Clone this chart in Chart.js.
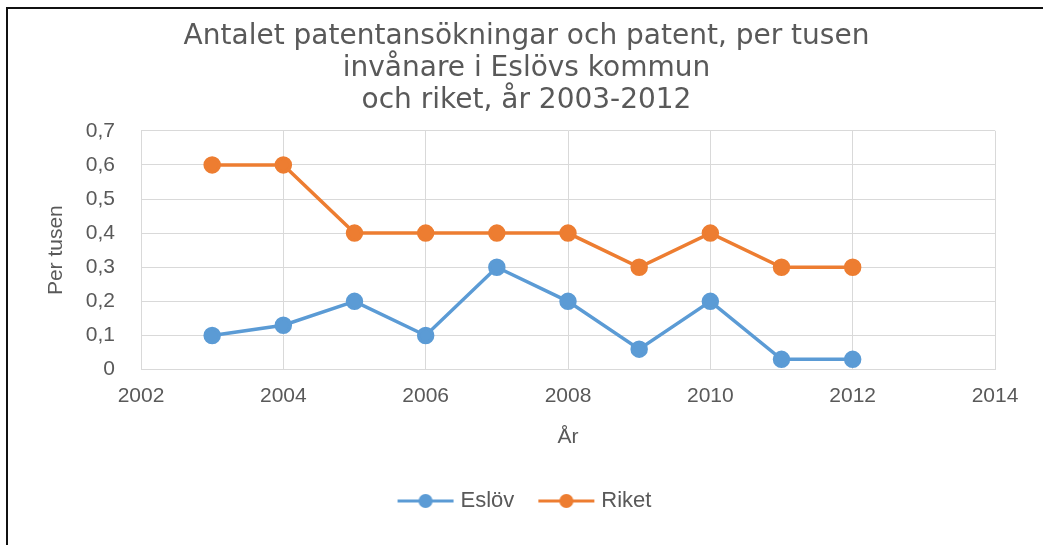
<!DOCTYPE html>
<html>
<head>
<meta charset="utf-8">
<script src="https://cdn.jsdelivr.net/npm/chart.js@4/dist/chart.umd.min.js"></script>
<style>
  html, body { margin: 0; padding: 0; background: #fff; }
  #wrap { position: relative; width: 1043px; height: 545px; }
  #frame { position: absolute; left: 6px; top: 7px; right: -4px; bottom: -4px;
           border-left: 2px solid #111; border-top: 2px solid #111; pointer-events: none; }
</style>
</head>
<body>
<div id="wrap">
  <canvas id="chart" width="1043" height="545"></canvas>
  <div id="frame"></div>
</div>
<script>
// data
var years = [2003, 2004, 2005, 2006, 2007, 2008, 2009, 2010, 2011, 2012];
var eslov = [0.10, 0.13, 0.20, 0.10, 0.30, 0.20, 0.06, 0.20, 0.03, 0.03];
var riket = [0.60, 0.60, 0.40, 0.40, 0.40, 0.40, 0.30, 0.40, 0.30, 0.30];
var titleLines = ['Antalet patentansökningar och patent, per tusen', 'invånare i Eslövs kommun', 'och riket, år 2003-2012'];
var seriesNames = ['Eslöv', 'Riket'];
var colors = ['#5B9BD5', '#ED7D31'];

var textColor = '#595959';
var gridColor = '#D9D9D9';

function toPoints(vals) {
  return years.map(function(y, i) { return { x: y, y: vals[i] }; });
}

// line + dot sample for the legend
function legendMark(color) {
  var c = document.createElement('canvas');
  c.width = 58; c.height = 16;
  var g = c.getContext('2d');
  g.strokeStyle = color; g.lineWidth = 3;
  g.beginPath(); g.moveTo(1, 8); g.lineTo(57, 8); g.stroke();
  g.fillStyle = color;
  g.beginPath(); g.arc(29, 8, 7, 0, Math.PI * 2); g.fill();
  return c;
}

var ctx = document.getElementById('chart');
new Chart(ctx, {
  type: 'line',
  data: {
    datasets: [
      { label: seriesNames[0], data: toPoints(eslov), borderColor: colors[0], backgroundColor: colors[0],
        borderWidth: 3.5, pointRadius: 7, pointHoverRadius: 7, tension: 0 },
      { label: seriesNames[1], data: toPoints(riket), borderColor: colors[1], backgroundColor: colors[1],
        borderWidth: 3.5, pointRadius: 7, pointHoverRadius: 7, tension: 0 }
    ]
  },
  options: {
    responsive: false,
    animation: false,
    layout: { padding: { left: 30, right: 20, top: 10, bottom: 23 } },
    plugins: {
      tooltip: { enabled: false },
      title: {
        display: true,
        text: titleLines,
        color: textColor,
        font: { family: 'DejaVu Sans', size: 28, weight: 'normal', lineHeight: 1.14 },
        padding: { top: 11, bottom: 14 }
      },
      legend: {
        position: 'bottom',
        labels: {
          color: textColor,
          font: { family: 'Liberation Sans', size: 22 },
          usePointStyle: true,
          pointStyleWidth: 48,
          padding: 28,
          generateLabels: function(chart) {
            return chart.data.datasets.map(function(ds, i) {
              return { text: ds.label, fillStyle: ds.borderColor, strokeStyle: ds.borderColor,
                       pointStyle: legendMark(ds.borderColor), datasetIndex: i, lineWidth: 0,
                       fontColor: textColor };
            });
          }
        }
      }
    },
    scales: {
      x: {
        type: 'linear',
        min: 2002, max: 2014,
        border: { color: gridColor, width: 1 },
        grid: { color: gridColor, drawTicks: false },
        ticks: { stepSize: 2, padding: 14, color: textColor,
                 font: { family: 'Liberation Sans', size: 21 },
                 callback: function(v) { return String(v); } },
        title: { display: true, text: 'År', color: textColor,
                 font: { family: 'Liberation Sans', size: 21 }, padding: { top: 2, bottom: 12 } },
        afterFit: function(scale) { scale.paddingRight = 48; }
      },
      y: {
        min: 0, max: 0.7,
        border: { color: gridColor, width: 1 },
        grid: { color: gridColor, drawTicks: false },
        ticks: { stepSize: 0.1, padding: 26, color: textColor,
                 font: { family: 'Liberation Sans', size: 21 },
                 callback: function(v) { return v === 0 ? '0' : v.toFixed(1).replace('.', ','); } },
        title: { display: true, text: 'Per tusen', color: textColor,
                 font: { family: 'Liberation Sans', size: 21 }, padding: { top: 14, bottom: 4 } },
        afterFit: function(scale) { scale.width = 111; }
      }
    }
  }
});
</script>
</body>
</html>
